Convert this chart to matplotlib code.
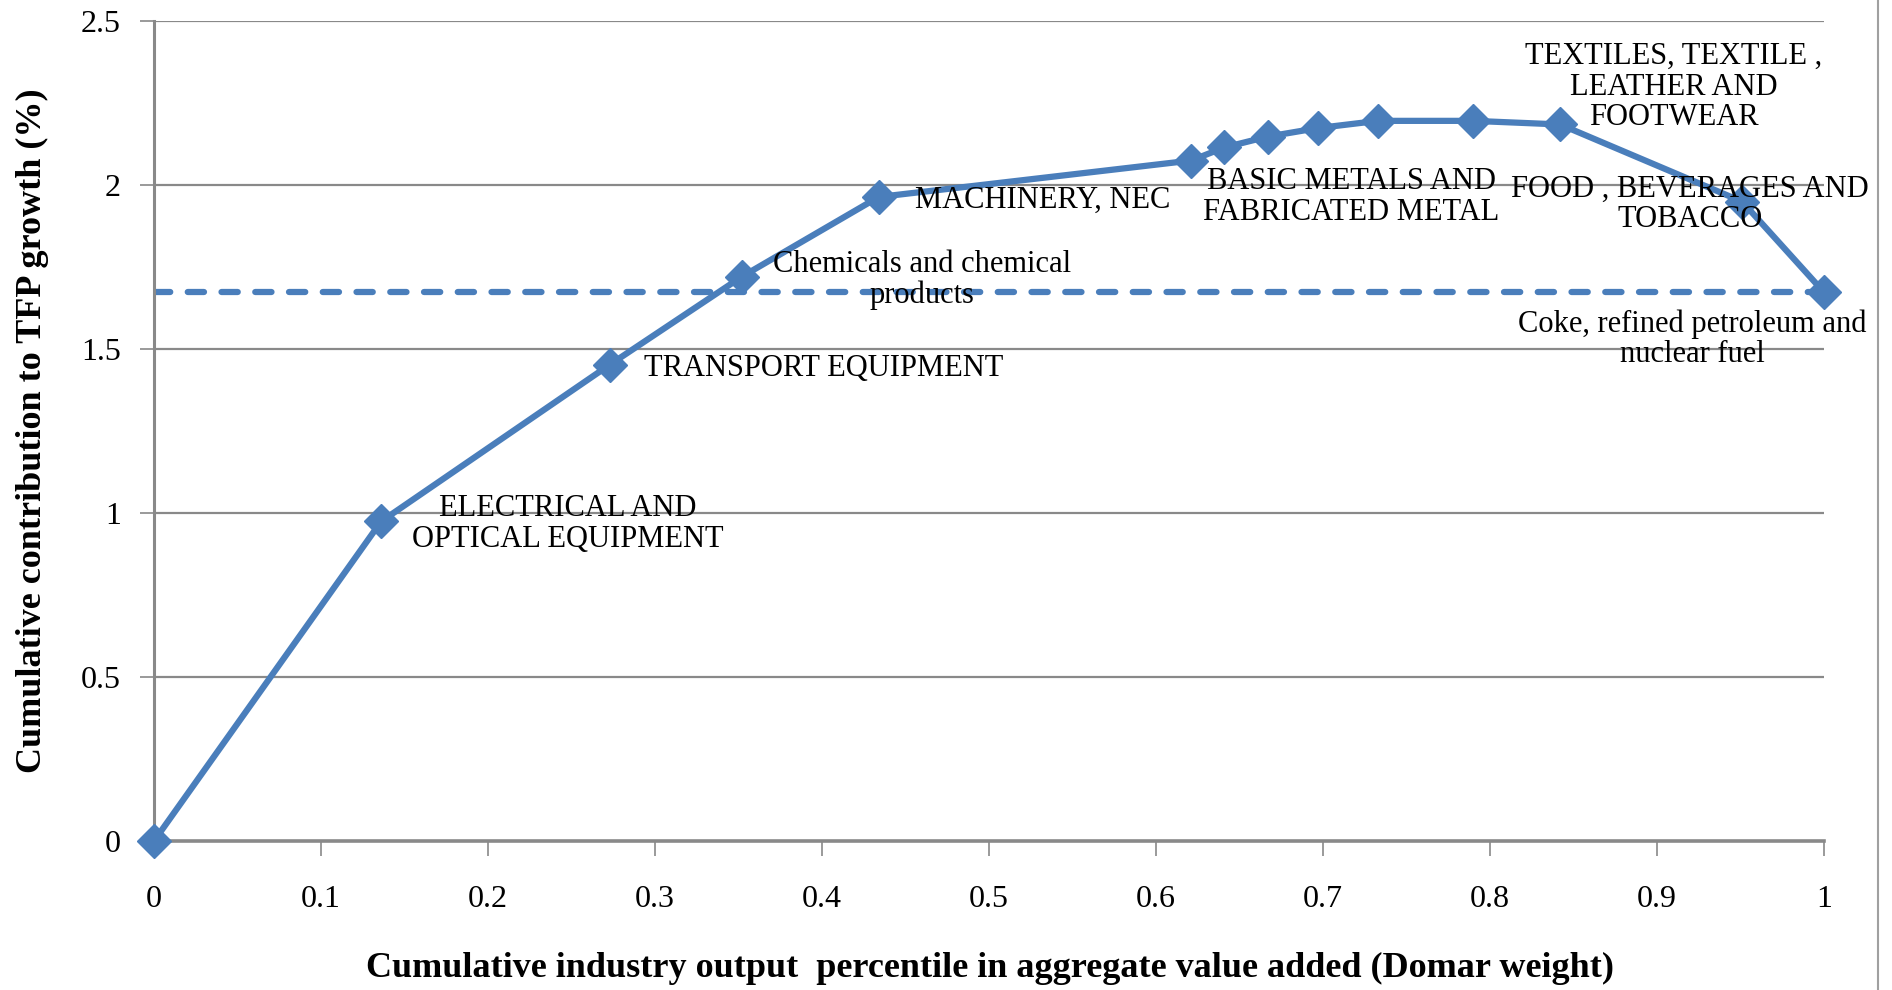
import matplotlib
matplotlib.use('Agg')
import matplotlib.pyplot as plt

# cumulative Domar weight and cumulative TFP contribution
domar_cum = [0.0, 0.136, 0.273, 0.352, 0.434, 0.621, 0.641, 0.667, 0.697, 0.733, 0.790, 0.842, 0.951, 1.0]
tfp_cum = [0.0, 0.974, 1.452, 1.72, 1.963, 2.074, 2.114, 2.147, 2.173, 2.195, 2.195, 2.184, 1.949, 1.673]
total_tfp = 1.673

# industry labels and where they sit (data coords)
label_text = ['ELECTRICAL AND\nOPTICAL EQUIPMENT',
              'TRANSPORT EQUIPMENT',
              'Chemicals and chemical\nproducts',
              'MACHINERY, NEC',
              'BASIC METALS AND\nFABRICATED METAL',
              'TEXTILES, TEXTILE ,\nLEATHER AND\nFOOTWEAR',
              'FOOD , BEVERAGES AND\nTOBACCO',
              'Coke, refined petroleum and\nnuclear fuel']
label_x = [0.248, 0.401, 0.460, 0.532, 0.717, 0.910, 0.920, 0.921]
label_y = [0.967, 1.441, 1.71, 1.952, 1.963, 2.298, 1.94, 1.529]

x_ticks = [0, 0.1, 0.2, 0.3, 0.4, 0.5, 0.6, 0.7, 0.8, 0.9, 1]
x_ticklabels = ['0', '0.1', '0.2', '0.3', '0.4', '0.5', '0.6', '0.7', '0.8', '0.9', '1']
y_ticks = [0, 0.5, 1, 1.5, 2, 2.5]
y_ticklabels = ['0', '0.5', '1', '1.5', '2', '2.5']

plt.rcParams['font.family'] = ['Liberation Serif', 'DejaVu Serif']

blue = '#4a7ebb'
grid_gray = '#898989'

fig = plt.figure(figsize=(18.92, 9.9), dpi=100)
ax = fig.add_axes([0.0814, 0.1505, 0.8826, 0.8285])

for yv in y_ticks[1:]:
    ax.axhline(yv, color=grid_gray, lw=1.6, zorder=1)

# average line
ax.plot([0, 1], [total_tfp, total_tfp], color=blue, lw=4.5, ls=(0, (2.6, 2.8)),
        dash_capstyle='round', zorder=2)

ax.plot(domar_cum, tfp_cum, color=blue, lw=4.5, marker='D', ms=17,
        clip_on=False, zorder=3)

for t, lx, ly in zip(label_text, label_x, label_y):
    ax.text(lx, ly, t, ha='center', va='center', fontsize=22,
            linespacing=1.07, zorder=4)

ax.set_xlim(0, 1)
ax.set_ylim(0, 2.5)
ax.set_xticks(x_ticks)
ax.set_xticklabels(x_ticklabels, fontsize=23)
ax.set_yticks(y_ticks)
ax.set_yticklabels(y_ticklabels, fontsize=23)
ax.tick_params(axis='x', direction='out', length=11, width=1.2, color=grid_gray, pad=21)
ax.tick_params(axis='y', direction='out', length=10, width=1.2, color=grid_gray, pad=14)

for s in ['top', 'right']:
    ax.spines[s].set_visible(False)
ax.spines['left'].set_color(grid_gray)
ax.spines['left'].set_linewidth(2.2)
ax.spines['bottom'].set_color(grid_gray)
ax.spines['bottom'].set_linewidth(2.6)

# axis titles placed in figure coords
fig.text(0.523, 0.022, 'Cumulative industry output  percentile in aggregate value added (Domar weight)',
         ha='center', va='center', fontsize=26, fontweight='bold')
fig.text(0.0174, 0.5646, 'Cumulative contribution to TFP growth (%)',
         ha='center', va='center', rotation=90, fontsize=26, fontweight='bold')

# chart area border on the right edge
fig.add_artist(plt.Line2D([0.9925, 0.9925], [0.0, 1.0], transform=fig.transFigure,
                          color='#a0a0a0', lw=1.5))

fig.savefig('out.png', dpi=100)
